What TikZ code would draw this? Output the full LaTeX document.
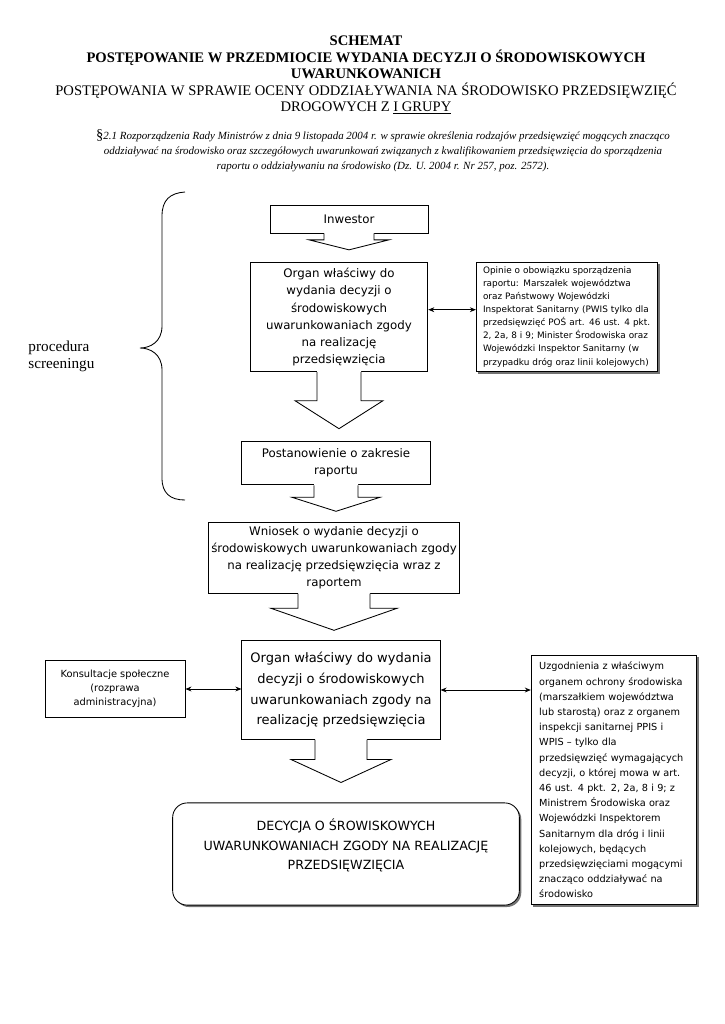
\documentclass[tikz,border=0pt]{standalone}
\usepackage{fontspec}
\setmainfont{Liberation Serif}
\newfontfamily\tahoma{DejaVu Sans}
\usetikzlibrary{arrows.meta,positioning,calc,shadows}
\tikzset{
  ramka/.style={draw,fill=white,align=center,inner sep=2pt},
  cien/.style={drop shadow={opacity=1,fill=black!55,shadow xshift=1.6pt,shadow yshift=-1.6pt}},
  sredni/.style={font=\tahoma\fontsize{9.7}{14}\selectfont},
  blok/.style={draw,fill=white},
}
% strzalka blokowa: #1 skad, #2 dokad, #3 pol. trzonu, #4 pol. grotu, #5 dl. grotu, #6 odstep
\newcommand{\blokstr}[6]{%
  \coordinate (g) at (#1.south |- #2.north);
  \fill[white] ($(#1.south)+(-#3,-1.5)$) -- ($(g)+(-#3,-#5-#6)$) -- ($(g)+(-#4,-#5-#6)$) -- ($(g)+(0,-#6)$)
    -- ($(g)+(#4,-#5-#6)$) -- ($(g)+(#3,-#5-#6)$) -- ($(#1.south)+(#3,-1.5)$) -- cycle;
  \draw ($(#1.south)+(-#3,0)$) -- ($(g)+(-#3,-#5-#6)$) -- ($(g)+(-#4,-#5-#6)$) -- ($(g)+(0,-#6)$)
    -- ($(g)+(#4,-#5-#6)$) -- ($(g)+(#3,-#5-#6)$) -- ($(#1.south)+(#3,0)$);}

\begin{document}
\begin{tikzpicture}[x=0.822pt,y=-0.822pt,line width=0.7pt,>={Stealth[length=5pt,width=4pt]}]
\useasboundingbox (0,0) rectangle (724,1024);
\node[align=center,font=\fontsize{12}{13.6}\selectfont] (tytul) at (366,75) {\textbf{SCHEMAT}\\
  \textbf{POSTĘPOWANIE W PRZEDMIOCIE WYDANIA DECYZJI O ŚRODOWISKOWYCH}\\
  \textbf{UWARUNKOWANICH}\\
  POSTĘPOWANIA W SPRAWIE OCENY ODDZIAŁYWANIA NA ŚRODOWISKO PRZEDSIĘWZIĘĆ\\
  DROGOWYCH Z \underline{I GRUPY}};
\node[align=center,font=\itshape\fontsize{9}{12.3}\selectfont] (podst) at (383,151) {{\upshape\fontsize{12}{12}\selectfont§}2.1 Rozporządzenia Rady Ministrów z dnia 9 listopada 2004 r. w sprawie określenia rodzajów przedsięwzięć mogących znacząco\\
  oddziaływać na środowisko oraz szczegółowych uwarunkowań związanych z kwalifikowaniem przedsięwzięcia do sporządzenia\\
  raportu o oddziaływaniu na środowisko (Dz. U. 2004 r. Nr 257, poz. 2572).};

% procedura screeningu
\draw (185,192) .. controls (170,193) and (162,200) .. (162,216) -- (162,326)
  .. controls (162,342) and (150,348) .. (140,348) .. controls (150,348) and (162,354) .. (162,370)
  -- (162,478) .. controls (162,493) and (170,500) .. (185,500);
\node[align=left,anchor=west,font=\fontsize{12.5}{14}\selectfont] (proc) at (24,356) {procedura\\screeningu};

\node[ramka,sredni,minimum width=130pt,minimum height=23pt] (inw) at (349,219) {Inwestor};
\node[ramka,sredni,minimum width=146pt,minimum height=90pt] (org1) at (339,317) {Organ właściwy do\\wydania decyzji o\\środowiskowych\\uwarunkowaniach zgody\\na realizację\\przedsięwzięcia};
\node[ramka,cien,align=left,inner xsep=5.5pt,text width=138pt,minimum height=90pt,font=\tahoma\fontsize{7.3}{10.7}\selectfont] (opin) at (567,317) {Opinie o obowiązku sporządzenia\\raportu: Marszałek województwa\\oraz Państwowy Wojewódzki\\Inspektorat Sanitarny (PWIS tylko dla\\przedsięwzięć POŚ art. 46 ust. 4 pkt.\\2, 2a, 8 i 9; Minister Środowiska oraz\\Wojewódzki Inspektor Sanitarny (w\\przypadku dróg oraz linii kolejowych)};
\node[ramka,sredni,minimum width=155pt,minimum height=36pt] (post) at (336,463) {Postanowienie o zakresie\\raportu};
\node[ramka,sredni,minimum width=207pt,minimum height=58pt] (wnio) at (334,558) {Wniosek o wydanie decyzji o\\środowiskowych uwarunkowaniach zgody\\na realizację przedsięwzięcia wraz z\\raportem};
\node[ramka,minimum width=163pt,minimum height=81pt,font=\tahoma\fontsize{10.7}{17}\selectfont] (org2) at (341,690) {Organ właściwy do wydania\\decyzji o środowiskowych\\uwarunkowaniach zgody na\\realizację przedsięwzięcia};
\node[ramka,minimum width=115pt,minimum height=47pt,font=\tahoma\fontsize{8.1}{11.5}\selectfont] (kons) at (115,689) {Konsultacje społeczne\\(rozprawa\\administracyjna)};
\node[ramka,cien,align=left,inner xsep=6.5pt,text width=123pt,minimum height=205pt,font=\tahoma\fontsize{8}{12.5}\selectfont] (uzg) at (614,780) {Uzgodnienia z właściwym\\organem ochrony środowiska\\(marszałkiem województwa\\lub starostą) oraz z organem\\inspekcji sanitarnej PPIS i\\WPIS – tylko dla\\przedsięwzięć wymagających\\decyzji, o której mowa w art.\\46 ust. 4 pkt. 2, 2a, 8 i 9; z\\Ministrem Środowiska oraz\\Wojewódzki Inspektorem\\Sanitarnym dla dróg i linii\\kolejowych, będących\\przedsięwzięciami mogącymi\\znacząco oddziaływać na\\środowisko};
\node[ramka,cien,rounded corners=12pt,minimum width=285pt,minimum height=84pt,font=\tahoma\fontsize{10.4}{16}\selectfont] (dec) at (346,854) {DECYCJA O ŚROWISKOWYCH\\UWARUNKOWANIACH ZGODY NA REALIZACJĘ\\PRZEDSIĘWZIĘCIA\\ \mbox{}};

\blokstr{inw}{org1}{25}{40}{10}{12}
\blokstr{org1}{post}{22}{44}{28}{12}
\blokstr{post}{wnio}{22}{44}{14}{11}
\blokstr{wnio}{org2}{36}{63}{22}{10}
\blokstr{org2}{dec}{26}{50}{23}{20}

\draw[<->] ([yshift=6pt]org1.east) -- ([yshift=6pt]org1.east -| opin.west);
\draw[<->] (kons.east) -- (kons.east -| org2.west);
\draw[<->] (org2.east) -- (org2.east -| uzg.west);
\end{tikzpicture}
\end{document}
